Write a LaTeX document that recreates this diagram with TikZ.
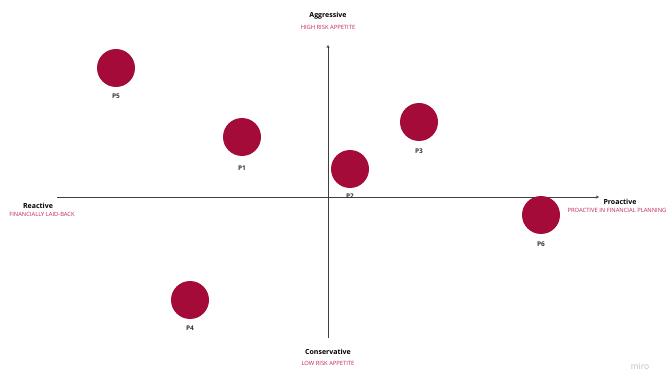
\documentclass[tikz,border=0pt]{standalone}
\usepackage{fontspec}
\setmainfont{Open Sans}
\usepackage{xcolor}
\usetikzlibrary{arrows.meta,positioning}
\definecolor{persona}{HTML}{A50B38}
\definecolor{subred}{HTML}{C2245A}
\begin{document}
\begin{tikzpicture}[x=1pt,y=-1pt,
    axislbl/.style={font=\fontsize{7}{8}\selectfont\bfseries,inner sep=0pt},
    sublbl/.style={font=\fontsize{5.8}{6}\selectfont,text=subred,inner sep=0pt},
    dot/.style={circle,fill=persona,minimum size=38pt,inner sep=0pt},
    plbl/.style={font=\fontsize{6.5}{7}\selectfont\bfseries,text=black!80,inner sep=0pt}]
  \useasboundingbox[fill=white] (0,0) rectangle (669,382);
  % axes
  \coordinate (west) at (57,197);
  \coordinate (east) at (599,197);
  \coordinate (south) at (328,338);
  \coordinate (north) at (328,45);
  \draw[black!75,line width=0.8pt,-{Stealth[length=3pt,width=3pt]}] (west) -- (east);
  \draw[black!75,line width=0.8pt,-{Stealth[length=3pt,width=3pt]}] (south) -- (north);
  % axis labels
  \node[axislbl] (aggr) at (328,16) {Aggressive};
  \node[sublbl] (aggrsub) at (328,27) {HIGH RISK APPETITE};
  \node[axislbl] (cons) at (328,352) {Conservative};
  \node[sublbl] (conssub) at (328,363) {LOW RISK APPETITE};
  \node[axislbl] (react) at (38,206) {Reactive};
  \node[sublbl] (reactsub) at (42,214) {FINANCIALLY LAID-BACK};
  \node[axislbl] (proact) at (620,202) {Proactive};
  \node[sublbl] (proactsub) at (617,210) {PROACTIVE IN FINANCIAL PLANNING};
  % personas
  \foreach \i/\x/\y/\ly in {5/116/68/96, 1/242/137/168, 2/350/169/196, 3/419/122/151, 6/541/215/244, 4/190/300/328}{
     \node[dot] (p\i) at (\x,\y) {};
     \node[plbl] (p\i lbl) at (\x,\ly) {P\i};}
  \node[font=\fontsize{8.5}{9}\selectfont,text=black!25,inner sep=0pt] (miro) at (640,366) {miro};
\end{tikzpicture}
\end{document}
